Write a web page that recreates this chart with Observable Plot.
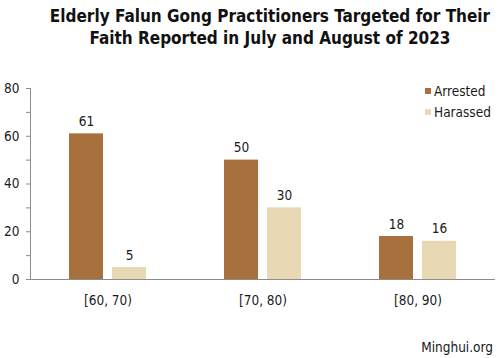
<!DOCTYPE html>
<html><head><meta charset="utf-8">
<script src="https://cdn.jsdelivr.net/npm/d3@7"></script>
<script src="https://cdn.jsdelivr.net/npm/@observablehq/plot@0.6"></script>
<style>
body{margin:0;background:#fff;}
#wrap{position:relative;width:500px;height:358px;overflow:hidden;font-family:"DejaVu Sans",sans-serif;font-stretch:condensed;color:#1a1a1a;}
#title{position:absolute;left:40px;width:460px;top:5px;text-align:center;font-weight:bold;font-size:17px;line-height:22px;color:#111;font-stretch:condensed;}
#chart{position:absolute;left:0;top:62px;}
#legend{position:absolute;left:425px;top:80.5px;font-size:13.5px;line-height:21px;}
#legend div{display:flex;align-items:center;white-space:nowrap;height:21px;}
#legend span.sw{display:inline-block;width:6px;height:6px;margin-right:3px;}
#caption{position:absolute;right:7px;top:339px;font-size:13.5px;line-height:16px;}
</style></head>
<body>
<div id="wrap">
  <div id="title">Elderly Falun Gong Practitioners Targeted for Their<br>Faith Reported in July and August of 2023</div>
  <div id="chart"></div>
  <div id="legend"></div>
  <div id="caption">Minghui.org</div>
</div>
<script>
const categories = ["[60, 70)", "[70, 80)", "[80, 90)"];
const series = ["Arrested", "Harassed"];
const arrested = [61, 50, 18];
const harassed = [5, 30, 16];
const colors = ["#A8703C", "#E8D8B4"];
const yTicks = [0, 10, 20, 30, 40, 50, 60, 70, 80];

const data = categories.flatMap((c, i) => [
  {cat: c, series: series[0], value: arrested[i]},
  {cat: c, series: series[1], value: harassed[i]}
]);

const chart = Plot.plot({
  width: 500, height: 296,
  marginLeft: 30, marginRight: 5, marginTop: 26, marginBottom: 79,
  style: {fontFamily: "DejaVu Sans, sans-serif", fontStretch: "condensed", fontSize: "13.5px", color: "#1a1a1a", background: "transparent"},
  fx: {domain: categories, padding: 0, label: null},
  x: {domain: series, paddingInner: 0.2045, paddingOuter: 0.864, axis: null},
  y: {domain: [0, 80]},
  color: {domain: series, range: colors},
  marks: [
    Plot.frame({anchor: "left", stroke: "#8c8c8c", facetAnchor: "left"}),
    Plot.axisY({ticks: yTicks, tickSize: 4, tickPadding: 7, stroke: "#8c8c8c", fill: "#1a1a1a", fontSize: 13.5,
      tickFormat: d => d % 20 === 0 ? String(d) : "", label: null}),
    Plot.axisFx({anchor: "bottom", tickSize: 0, tickPadding: 16, fontSize: 13.5, label: null, fill: "#1a1a1a"}),
    Plot.barY(data, {fx: "cat", x: "series", y: "value", fill: "series"}),
    Plot.ruleY([0], {stroke: "#8c8c8c"}),
    Plot.text(data, {fx: "cat", x: "series", y: "value", text: d => String(d.value), lineAnchor: "bottom", dy: -8, fontSize: 13.5, fill: "#1a1a1a"})
  ]
});
document.getElementById("chart").appendChild(chart);

const leg = document.getElementById("legend");
series.forEach((s, i) => {
  const row = document.createElement("div");
  const sw = document.createElement("span");
  sw.className = "sw";
  sw.style.background = colors[i];
  row.appendChild(sw);
  row.appendChild(document.createTextNode(s));
  leg.appendChild(row);
});
</script>
</body></html>
